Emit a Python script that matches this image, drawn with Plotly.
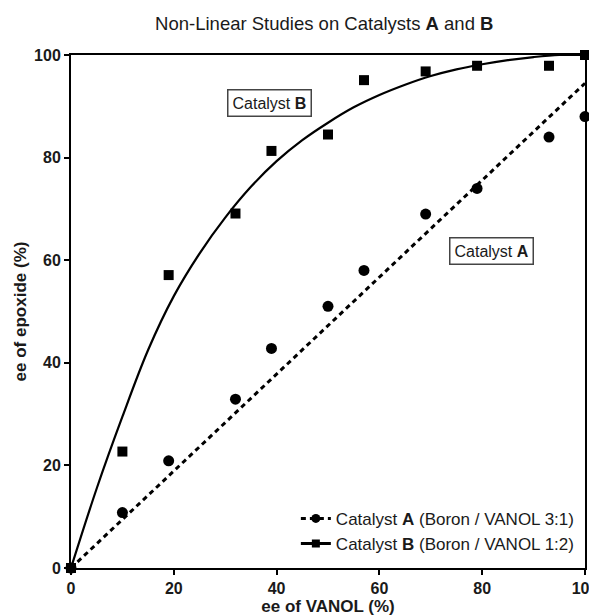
import plotly.graph_objects as go

# Data
vanol_ee = [0, 10, 19, 32, 39, 50, 57, 69, 79, 93, 100]
epoxide_ee_A = [0, 10.8, 20.9, 32.9, 42.8, 51, 58, 69, 74, 84, 88]
epoxide_ee_B = [0, 22.7, 57.1, 69.1, 81.3, 84.5, 95.1, 96.8, 97.9, 97.9, 100]

# Fitted curves
fitA_x = [0, 100]
fitA_y = [0, 94.5]
fitB_x = [0, 5, 10, 15, 20, 25, 30, 35, 40, 45, 50, 55, 60, 65, 70, 75, 80, 85, 90, 95, 100]
fitB_y = [0, 15.5, 29.5, 42.5, 53, 61.3, 68.3, 74.3, 79.3, 83.4, 86.8, 89.8, 92.2, 94.2, 95.9, 97.2, 98.2, 99.0, 99.6, 100, 100]

tick_vals = [0, 20, 40, 60, 80, 100]
tick_text = ["0", "20", "40", "60", "80", "100"]

FONT = "Liberation Sans, Arial, sans-serif"
TXT = "#1a1a1a"
DASH = "5px,4px"

fig = go.Figure()

# fit lines
fig.add_trace(go.Scatter(x=fitA_x, y=fitA_y, mode="lines",
                         line=dict(color="black", width=3, dash=DASH),
                         showlegend=False, hoverinfo="skip"))
fig.add_trace(go.Scatter(x=fitB_x, y=fitB_y, mode="lines", line_shape="spline",
                         line=dict(color="black", width=2.2),
                         showlegend=False, hoverinfo="skip"))
# points
fig.add_trace(go.Scatter(x=vanol_ee, y=epoxide_ee_A, mode="markers",
                         marker=dict(symbol="circle", size=11, color="black"),
                         showlegend=False, cliponaxis=False))
fig.add_trace(go.Scatter(x=vanol_ee, y=epoxide_ee_B, mode="markers",
                         marker=dict(symbol="square", size=10, color="black"),
                         showlegend=False, cliponaxis=False))

# legend entries
fig.add_trace(go.Scatter(x=[None], y=[None], mode="lines+markers",
                         name="Catalyst <b>A</b> (Boron / VANOL 3:1)",
                         line=dict(color="black", width=3, dash=DASH),
                         marker=dict(symbol="circle", size=9, color="black")))
fig.add_trace(go.Scatter(x=[None], y=[None], mode="lines+markers",
                         name="Catalyst <b>B</b> (Boron / VANOL 1:2)",
                         line=dict(color="black", width=3),
                         marker=dict(symbol="square", size=8, color="black")))

axis_common = dict(
    range=[0, 100], tickvals=tick_vals, ticktext=tick_text,
    showgrid=False, zeroline=False, showline=True, mirror=True,
    linecolor="black", linewidth=2, ticks="outside", ticklen=5,
    tickwidth=2, tickcolor="black", automargin=False,
    ticklabeloverflow="allow",
    tickfont=dict(family=FONT, size=16, color=TXT, weight="bold"),
)

# page renders with an 8px body offset, so the figure is sized to fill the rest
fig.update_layout(
    width=589, height=608,
    margin=dict(l=63, r=12, t=47, b=48),
    paper_bgcolor="white", plot_bgcolor="white",
    font=dict(family=FONT, color=TXT),
    title=dict(text="Non-Linear Studies on Catalysts <b>A</b> and <b>B</b>",
               x=0.537, xanchor="center", y=0.974, yanchor="middle",
               font=dict(family=FONT, size=18.5, color=TXT)),
    xaxis=dict(**axis_common,
               title=dict(text="<b>ee of VANOL (%)</b>", standoff=0,
                          font=dict(family=FONT, size=17, color=TXT))),
    yaxis=dict(**axis_common,
               title=dict(text="<b>ee of epoxide (%)</b>", standoff=3,
                          font=dict(family=FONT, size=17, color=TXT))),
    legend=dict(x=0.99, y=0.012, xanchor="right", yanchor="bottom",
                bgcolor="rgba(255,255,255,0)", borderwidth=0,
                font=dict(family=FONT, size=17, color=TXT),
                tracegroupgap=0, itemwidth=30),
    showlegend=True,
)

fig.add_annotation(x=38.7, y=90.6, xref="x", yref="y",
                   text="Catalyst <b>B</b>", showarrow=False,
                   font=dict(family=FONT, size=16, color=TXT),
                   bordercolor="#444", borderwidth=1.5, borderpad=4,
                   bgcolor="white")
fig.add_annotation(x=81.8, y=61.8, xref="x", yref="y",
                   text="Catalyst <b>A</b>", showarrow=False,
                   font=dict(family=FONT, size=16, color=TXT),
                   bordercolor="#444", borderwidth=1.5, borderpad=4,
                   bgcolor="white")

fig.write_html("out.html")
